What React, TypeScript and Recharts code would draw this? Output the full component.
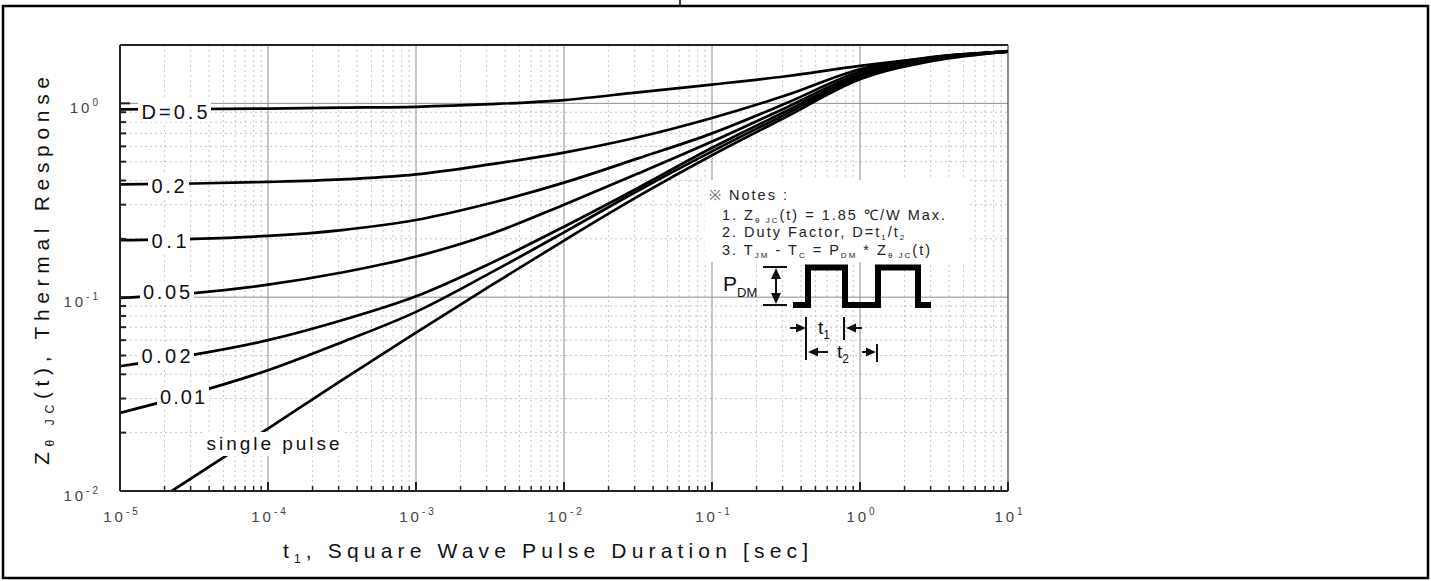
import React from 'react';
import { LineChart, Line, XAxis, YAxis, CartesianGrid, ReferenceLine } from 'recharts';

// pulse durations (sec), half-decade steps
const pulseT = [1e-5, 3.16e-5, 1e-4, 3.16e-4, 1e-3, 3.16e-3, 1e-2, 3.16e-2, 1e-1, 0.316, 1, 3.16, 10];
const zD05 = [0.93, 0.935, 0.94, 0.95, 0.96, 0.99, 1.04, 1.14, 1.25, 1.38, 1.56, 1.72, 1.86];
const zD02 = [0.382, 0.386, 0.393, 0.405, 0.43, 0.484, 0.557, 0.668, 0.84, 1.1, 1.5, 1.74, 1.85];
const zD01 = [0.197, 0.2, 0.207, 0.222, 0.25, 0.305, 0.39, 0.52, 0.7, 1.0, 1.46, 1.73, 1.85];
const zD005 = [0.099, 0.105, 0.116, 0.134, 0.162, 0.211, 0.3, 0.434, 0.635, 0.95, 1.42, 1.71, 1.85];
const zD002 = [0.044, 0.0505, 0.06, 0.076, 0.101, 0.149, 0.231, 0.366, 0.59, 0.91, 1.39, 1.7, 1.85];
const zD001 = [0.0253, 0.032, 0.042, 0.0586, 0.084, 0.133, 0.216, 0.354, 0.565, 0.88, 1.36, 1.68, 1.85];

// single pulse starts where it enters the plot at the bottom
const singleT = [2.24e-5, 1e-4, 3.16e-4, 1e-3, 3.16e-3, 1e-2, 3.16e-2, 1e-1, 0.316, 1, 3.16, 10];
const zSingle = [0.01, 0.021, 0.0373, 0.0656, 0.114, 0.196, 0.331, 0.54, 0.85, 1.33, 1.66, 1.85];

const xDecades = [1e-5, 1e-4, 1e-3, 1e-2, 1e-1, 1, 10];
const yDecades = [0.01, 0.1, 1];
const minorSteps = [2, 3, 4, 5, 6, 7, 8, 9];

const xMinor = xDecades.slice(0, -1).flatMap(d => minorSteps.map(m => m * d));
const yMinor = yDecades.slice(0, -1).flatMap(d => minorSteps.map(m => m * d));
const xTicks = [...xDecades, ...xMinor].sort((a, b) => a - b);
const yTicks = [...yDecades, ...yMinor].sort((a, b) => a - b);

const series = [
  { name: 'D=0.5', t: pulseT, z: zD05 },
  { name: '0.2', t: pulseT, z: zD02 },
  { name: '0.1', t: pulseT, z: zD01 },
  { name: '0.05', t: pulseT, z: zD005 },
  { name: '0.02', t: pulseT, z: zD002 },
  { name: '0.01', t: pulseT, z: zD001 },
  { name: 'single pulse', t: singleT, z: zSingle },
];

const FONT = '"Liberation Sans", Arial, sans-serif';

const isDecade = (v: number) => Math.abs(Math.log10(v) - Math.round(Math.log10(v))) < 1e-6;

const XTick = (props: any) => {
  const { x, y, payload } = props;
  const v = payload.value;
  const major = isDecade(v);
  const e = Math.round(Math.log10(v));
  return (
    <g>
      <line x1={x} x2={x} y1={y} y2={y - (major ? 9 : 5)} stroke="#222" strokeWidth={major ? 2 : 1.5} />
      {major && (
        <text x={x + 2} y={y + 31} textAnchor="middle" fontSize={15} fill="#444" letterSpacing={3} fontFamily={FONT}>
          10<tspan dy={-7} fontSize={10}>{e}</tspan>
        </text>
      )}
    </g>
  );
};

const YTick = (props: any) => {
  const { x, y, payload } = props;
  const v = payload.value;
  const major = isDecade(v);
  const e = Math.round(Math.log10(v));
  return (
    <g>
      <line x1={x} x2={x + (major ? 10 : 6)} y1={y} y2={y} stroke="#222" strokeWidth={2} />
      {major && (
        <text x={101} y={y + 10} textAnchor="end" fontSize={15} fill="#444" letterSpacing={3} fontFamily={FONT}>
          10<tspan dy={-7} fontSize={10}>{e}</tspan>
        </text>
      )}
    </g>
  );
};

const curveLabels = [
  { text: 'D=0.5', x: 141.5, y: 119, w: 66, box: [138, 100, 73, 22] },
  { text: '0.2', x: 151.5, y: 193, w: 33, box: [148, 175, 41, 22] },
  { text: '0.1', x: 151.5, y: 248, w: 35, box: [148, 230, 42, 22] },
  { text: '0.05', x: 143, y: 299, w: 47, box: [140, 281, 54, 22] },
  { text: '0.02', x: 141.5, y: 363, w: 49, box: [138, 345, 56, 22] },
  { text: '0.01', x: 160, y: 404, w: 45, box: [157, 386, 52, 22] },
  { text: 'single pulse', x: 206.5, y: 450, w: 133, box: [203, 432, 140, 24] },
];

const Overlay = () => (
  <svg width={1431} height={581} style={{ position: 'absolute', left: 0, top: 0, pointerEvents: 'none' }} fontFamily={FONT}>
    {/* page frame */}
    <rect x={3} y={6} width={1425} height={572} fill="none" stroke="#000" strokeWidth={2.5} />
    <line x1={680} x2={680} y1={0} y2={6} stroke="#000" strokeWidth={1.5} />

    {/* curve labels */}
    {curveLabels.map(l => (
      <g key={l.text}>
        <rect x={l.box[0]} y={l.box[1]} width={l.box[2]} height={l.box[3]} fill="#fff" />
        <text x={l.x} y={l.y} fontSize={l.text === 'single pulse' ? 19 : 20} fill="#111" textLength={l.w} lengthAdjust="spacing">
          {l.text}
        </text>
      </g>
    ))}

    {/* axis titles */}
    <text x={283} y={558} fontSize={21} fill="#111" textLength={525} lengthAdjust="spacing">
      t<tspan fontSize={12} dy={5}>1</tspan><tspan dy={-5}>, Square Wave Pulse Duration [sec]</tspan>
    </text>
    <g transform="translate(49,465) rotate(-90)">
      <text x={0} y={0} fontSize={21} fill="#111" textLength={388} lengthAdjust="spacing">
        Z<tspan fontSize={12} dy={5}>θ JC</tspan><tspan dy={-5}>(t), Thermal Response</tspan>
      </text>
    </g>

    {/* notes */}
    <rect x={705} y={180} width={265} height={82} fill="#fff" />
    <g fontSize={14.5} fill="#222" letterSpacing={2}>
      <text x={709} y={200}><tspan fill="#666">※</tspan>  Notes :</text>
      <text x={722} y={220}>
        1. Z<tspan fontSize={8} dy={3}>θ JC</tspan><tspan dy={-3}>(t) = 1.85 ℃/W Max.</tspan>
      </text>
      <text x={722} y={237}>
        2. Duty Factor, D=t<tspan fontSize={8} dy={3}>1</tspan><tspan dy={-3}>/t</tspan><tspan fontSize={8} dy={3}>2</tspan>
      </text>
      <text x={722} y={255}>
        3. T<tspan fontSize={8} dy={3}>JM</tspan><tspan dy={-3}> - T</tspan><tspan fontSize={8} dy={3}>C</tspan>
        <tspan dy={-3}> = P</tspan><tspan fontSize={8} dy={3}>DM</tspan><tspan dy={-3}> * Z</tspan>
        <tspan fontSize={8} dy={3}>θ JC</tspan><tspan dy={-3}>(t)</tspan>
      </text>
    </g>

    {/* waveform */}
    <text x={723} y={291} fontSize={21} fill="#111">P<tspan fontSize={13} dy={6}>DM</tspan></text>
    <line x1={763} x2={787} y1={267} y2={267} stroke="#111" strokeWidth={2} />
    <line x1={763} x2={787} y1={305} y2={305} stroke="#111" strokeWidth={2} />
    <line x1={776} x2={776} y1={277} y2={295} stroke="#111" strokeWidth={2} />
    <polygon points="776,268 771,279 781,279" fill="#111" />
    <polygon points="776,304 771,293 781,293" fill="#111" />
    <path d="M793 305 H808 V267.5 H845 V305 H878 V267.5 H918 V305 H931" fill="none" stroke="#000" strokeWidth={6} strokeLinejoin="miter" />

    <line x1={806} x2={806} y1={317} y2={360} stroke="#111" strokeWidth={2} />
    <line x1={844} x2={844} y1={317} y2={340} stroke="#111" strokeWidth={2} />
    <line x1={877} x2={877} y1={344} y2={362} stroke="#111" strokeWidth={2} />
    <line x1={790} x2={798} y1={328} y2={328} stroke="#111" strokeWidth={2} />
    <polygon points="806,328 796,323.5 796,332.5" fill="#111" />
    <line x1={854} x2={862} y1={328} y2={328} stroke="#111" strokeWidth={2} />
    <polygon points="846,328 856,323.5 856,332.5" fill="#111" />
    <text x={818} y={334} fontSize={19} fill="#111">t<tspan fontSize={12} dy={5}>1</tspan></text>

    <polygon points="808,352 818,347.5 818,356.5" fill="#111" />
    <line x1={816} x2={828} y1={352} y2={352} stroke="#111" strokeWidth={2} />
    <text x={837} y={358} fontSize={19} fill="#111">t<tspan fontSize={12} dy={5}>2</tspan></text>
    <line x1={862} x2={868} y1={352} y2={352} stroke="#111" strokeWidth={2} />
    <polygon points="876,352 866,347.5 866,356.5" fill="#111" />
  </svg>
);

export default function App() {
  return (
    <div style={{ position: 'absolute', left: 0, top: 0, width: 1431, height: 581, background: '#fff', overflow: 'hidden' }}>
      <LineChart width={1431} height={581} margin={{ top: 45, right: 423, bottom: 30, left: 40 }}>
        <CartesianGrid verticalValues={xMinor} horizontalValues={yMinor} stroke="#c6c6c6" strokeDasharray="2 3" />
        <CartesianGrid verticalValues={xDecades.slice(1, -1)} horizontalValues={yDecades.slice(1)} stroke="#8c8c8c" />
        <XAxis
          type="number"
          dataKey="t"
          scale="log"
          domain={[1e-5, 10]}
          allowDataOverflow
          ticks={xTicks}
          interval={0}
          tick={(p: any) => <XTick {...p} />}
          tickLine={false}
          tickSize={0}
          tickMargin={0}
          height={60}
          axisLine={{ stroke: '#222', strokeWidth: 2 }}
        />
        <YAxis
          type="number"
          dataKey="z"
          scale="log"
          domain={[0.01, 2]}
          allowDataOverflow
          ticks={yTicks}
          interval={0}
          tick={(p: any) => <YTick {...p} />}
          tickLine={false}
          tickSize={0}
          tickMargin={0}
          width={80}
          axisLine={{ stroke: '#222', strokeWidth: 2 }}
        />
        <ReferenceLine y={2} stroke="#222" strokeWidth={2} />
        <ReferenceLine x={10} stroke="#444" strokeWidth={1.2} />
        {series.map(s => (
          <Line
            key={s.name}
            name={s.name}
            data={s.t.map((t, i) => ({ t, z: s.z[i] }))}
            dataKey="z"
            type="monotone"
            stroke="#000"
            strokeWidth={2.7}
            dot={false}
            isAnimationActive={false}
          />
        ))}
      </LineChart>
      <Overlay />
    </div>
  );
}
